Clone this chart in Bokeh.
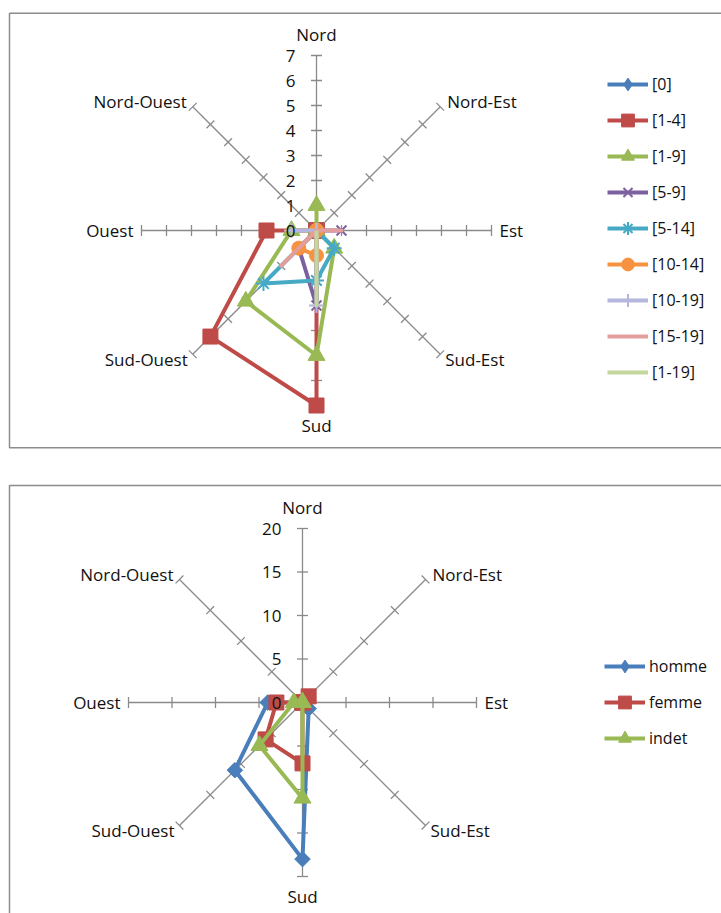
import numpy as np
from bokeh.plotting import figure
from bokeh.layouts import column
from bokeh.models import Range1d
from bokeh.core.properties import value
from bokeh.embed import file_html
from bokeh.resources import INLINE

# ---------------- data ----------------
directions = ["Nord", "Nord-Est", "Est", "Sud-Est", "Sud", "Sud-Ouest", "Ouest", "Nord-Ouest"]

age_labels = ["[0]", "[1-4]", "[1-9]", "[5-9]", "[5-14]", "[10-14]", "[10-19]", "[15-19]", "[1-19]"]
age_0 = [0, 0, 0, 0, 0, 0, 0, 0]
age_1_4 = [0, 0, 0, 0, 7, 6, 2, 0]
age_1_9 = [1, 0, 0, 1, 5, 4, 1, 0]
age_5_9 = [0, 0, 1, 0, 3, 1, 0, 0]
age_5_14 = [0, 0, 0, 1, 2, 3, 0, 0]
age_10_14 = [0, 0, 0, 0, 1, 1, 0, 0]
age_10_19 = [0, 0, 0, 0, 3, 0, 1, 0]
age_15_19 = [0, 0, 1, 0, 0, 2, 0, 0]
age_1_19 = [0, 0, 0, 0, 3, 0, 0, 0]
age_ticks = [0, 1, 2, 3, 4, 5, 6, 7]

sex_labels = ["homme", "femme", "indet"]
homme = [0, 0, 0, 1, 18, 11, 4, 0]
femme = [0, 1, 0, 0, 7, 6, 3, 0]
indet = [0, 0, 0, 0, 11, 7, 1, 0]
sex_ticks = [0, 5, 10, 15, 20]

# ---------------- styles ----------------
angles = np.deg2rad([90, 45, 0, -45, -90, -135, 180, 135])
FONT = "Open Sans"
AXIS_COL = "#8a8a8a"
TXT_COL = "#111111"

# marker drawn in chart / marker shown in legend
age_styles = [
    dict(color="#4A7EBB", marker="square", size=11, angle=np.pi / 4, leg_marker="diamond"),
    dict(color="#BE4B48", marker="square", size=15, angle=0, leg_marker="square"),
    dict(color="#98B954", marker="triangle", size=17, angle=0, leg_marker="triangle"),
    dict(color="#7D60A0", marker="x", size=14, angle=0, leg_marker="x"),
    dict(color="#46AAC5", marker="asterisk", size=15, angle=0, leg_marker="asterisk"),
    dict(color="#F69240", marker="circle", size=14, angle=0, leg_marker="circle"),
    dict(color="#B5B6DD", marker="cross", size=15, angle=0, leg_marker="cross"),
    dict(color="#E29E9C", marker=None, size=0, angle=0, leg_marker=None),
    dict(color="#C3D69B", marker=None, size=0, angle=0, leg_marker=None),
]
sex_styles = age_styles[:3]

label_specs = {
    "Nord": (0, -21, "center"),
    "Nord-Est": (7, -5, "left"),
    "Est": (8, 0, "left"),
    "Sud-Est": (5, 5, "left"),
    "Sud": (0, 20, "center"),
    "Sud-Ouest": (-5, 5, "right"),
    "Ouest": (-8, 0, "right"),
    "Nord-Ouest": (-6, -5, "right"),
}

W = 721


def radar(H, cx, cy, s, ticks, tick_marks, series, labels, styles, leg_loc,
          box_top, box_bottom):
    p = figure(width=W, height=H, output_backend="svg", toolbar_location=None,
               x_range=Range1d(-cx / s, (W - cx) / s),
               y_range=Range1d(-(H - cy) / s, cy / s),
               x_axis_location=None, y_axis_location=None,
               min_border=0, min_border_left=0, min_border_right=0,
               min_border_top=0, min_border_bottom=0)
    p.grid.grid_line_color = None
    p.outline_line_color = None
    p.background_fill_color = "white"
    p.border_fill_color = "white"

    def px(xp, yp):
        return (xp - cx) / s, (cy - yp) / s

    # chart frame (left, top, bottom edges)
    pts = []
    if box_bottom is not None:
        pts.append(px(W + 20, box_bottom))
        pts.append(px(9, box_bottom))
    else:
        pts.append(px(9, H + 20))
    pts.append(px(9, box_top))
    pts.append(px(W + 20, box_top))
    p.line([a for a, b in pts], [b for a, b in pts], line_color="#8c8c8c", line_width=1.5)

    R = max(ticks)
    # spokes
    p.segment(x0=[0] * 8, y0=[0] * 8, x1=list(R * np.cos(angles)), y1=list(R * np.sin(angles)),
              line_color=AXIS_COL, line_width=1.3)
    # tick marks
    h = 5.5 / s
    x0s, y0s, x1s, y1s = [], [], [], []
    for a in angles:
        for k in tick_marks:
            mx, my = k * np.cos(a), k * np.sin(a)
            nx, ny = -np.sin(a) * h, np.cos(a) * h
            x0s.append(mx - nx); y0s.append(my - ny)
            x1s.append(mx + nx); y1s.append(my + ny)
    p.segment(x0=x0s, y0=y0s, x1=x1s, y1=y1s, line_color=AXIS_COL, line_width=1.3)

    # direction labels
    for d, a in zip(directions, angles):
        xo, yo, al = label_specs[d]
        p.text(x=[R * np.cos(a)], y=[R * np.sin(a)], text=[d], x_offset=xo, y_offset=yo,
               text_align=al, text_baseline="middle", text_font=value(FONT),
               text_font_size="17px", text_color=TXT_COL)

    # series
    for lab, vals, st in zip(labels, series, styles):
        v = np.array(vals + vals[:1], dtype=float)
        a = np.concatenate([angles, angles[:1]])
        xs = v * np.cos(a)
        ys = v * np.sin(a)
        p.line(list(xs), list(ys), line_color=st["color"], line_width=4,
               line_join="round", legend_label=lab)
        if st["marker"]:
            kw = dict(fill_color=st["color"], line_color=st["color"])
            lw = 2 if st["marker"] in ("x", "asterisk", "cross") else 1
            p.scatter(list(xs[:-1]), list(ys[:-1]), marker=st["marker"], size=st["size"],
                      angle=st["angle"], line_width=lw, **kw)
            # legend swatch marker (a single undrawable NaN point)
            p.scatter(x=[np.nan], y=[np.nan], marker=st["leg_marker"], size=st["size"],
                      line_width=lw, legend_label=lab, **kw)

    # value labels on the Nord axis
    p.text(x=[0] * len(ticks), y=ticks, text=[str(t) for t in ticks], x_offset=-21,
           text_align="right", text_baseline="middle", text_font=value(FONT),
           text_font_size="17px", text_color=TXT_COL)

    leg = p.legend[0]
    leg.location = leg_loc
    leg.padding = 0
    leg.margin = 0
    leg.border_line_color = None
    leg.background_fill_alpha = 0
    leg.glyph_width = 41
    leg.glyph_height = 32
    leg.label_height = 20
    leg.spacing = 4
    leg.label_standoff = 4
    leg.label_text_font = FONT
    leg.label_text_font_size = "16px"
    leg.label_text_color = TXT_COL
    return p


H1 = 466
p1 = radar(H1, 316, 230, 25.0, age_ticks, age_ticks[1:],
           [age_0, age_1_4, age_1_9, age_5_9, age_5_14, age_10_14, age_10_19, age_15_19, age_1_19],
           age_labels, age_styles, (607, 78), 12.8, 447.3)

H2 = 447
p2 = radar(H2, 302, 236, 8.7, sex_ticks, sex_ticks[1:],
           [homme, femme, indet], sex_labels, sex_styles, (604, 159), 19, None)

layout = column(p1, p2, spacing=0)
open("out.html", "w").write(file_html(layout, INLINE))
